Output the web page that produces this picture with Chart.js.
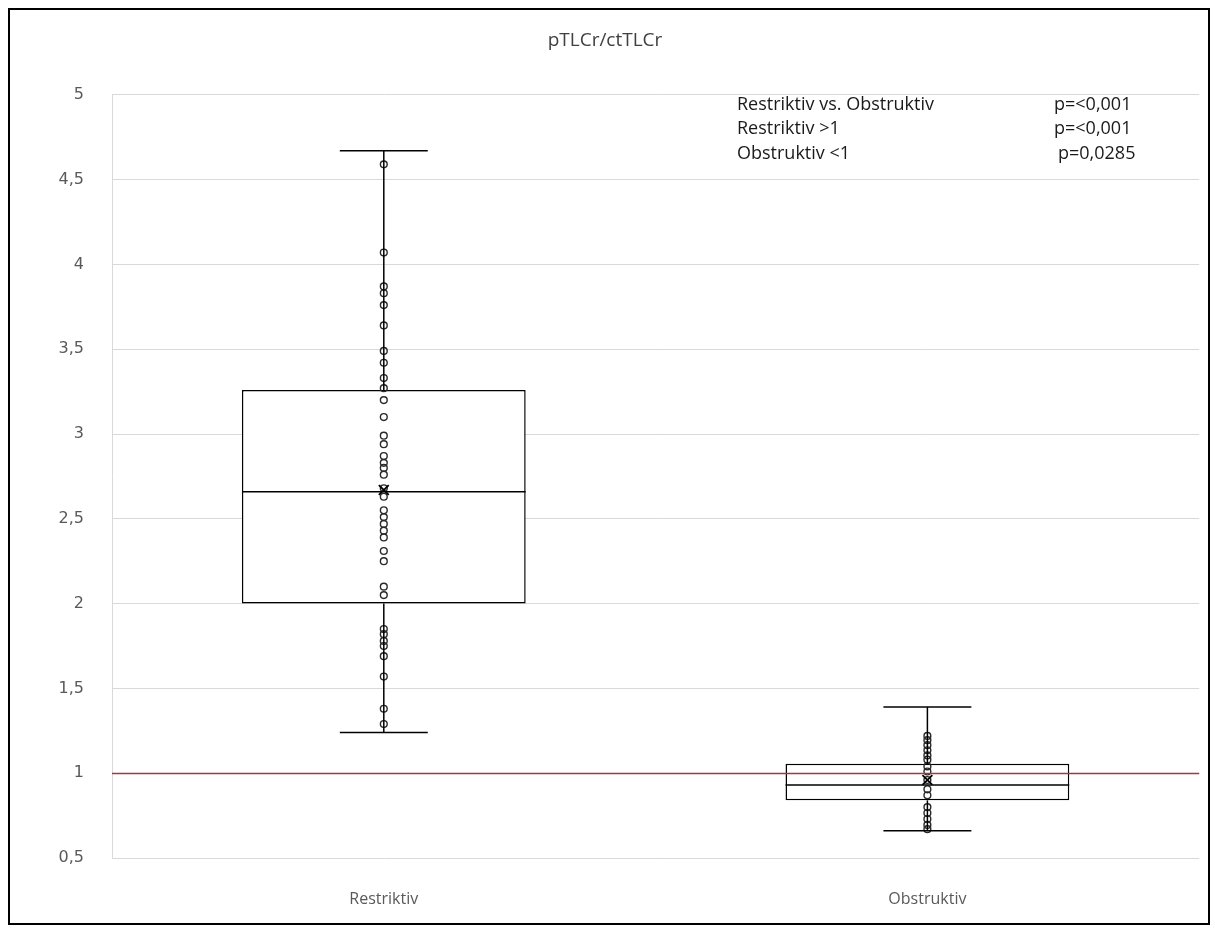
<!DOCTYPE html>
<html>
<head>
<meta charset="utf-8">
<script src="https://cdn.jsdelivr.net/npm/chart.js@4"></script>
<style>
  body { margin: 0; background: #fff; }
  #frame { position: absolute; left: 8px; top: 8px; width: 1198px; height: 913px; border: 2px solid #000; }
</style>
</head>
<body>
<div id="frame"><canvas id="myChart" width="1198" height="913"></canvas></div>
<script>
/* data */
const categories = ['Restriktiv', 'Obstruktiv'];
const boxMin = [1.24, 0.66];
const boxQ1 = [2.0, 0.84];
const boxMedian = [2.66, 0.93];
const boxQ3 = [3.26, 1.055];
const boxMax = [4.67, 1.39];
const boxMean = [2.67, 0.96];

const restriktivPoints = [4.59, 4.07, 3.87, 3.83, 3.76, 3.64, 3.49, 3.42, 3.33, 3.27, 3.2, 3.1,
  2.99, 2.94, 2.87, 2.83, 2.8, 2.76, 2.68, 2.63, 2.55, 2.51, 2.47, 2.43, 2.39, 2.31, 2.25,
  2.1, 2.05, 1.85, 1.82, 1.78, 1.75, 1.69, 1.57, 1.38, 1.29];
const obstruktivPoints = [1.22, 1.195, 1.165, 1.135, 1.105, 1.08, 1.04, 1.01, 0.96, 0.905,
  0.87, 0.8, 0.765, 0.73, 0.695, 0.67];

const referenceValue = 1;
const statLabels = ['Restriktiv vs. Obstruktiv', 'Restriktiv >1', 'Obstruktiv <1'];
const statPValues = ['p=<0,001', 'p=<0,001', 'p=0,0285'];

const FONT = '"Open Sans", sans-serif';

/* whiskers, median, reference line, p-value text */
const boxExtras = {
  id: 'boxExtras',
  afterDatasetsDraw(chart) {
    const { ctx, chartArea, scales } = chart;
    const y = scales.y;
    const bars = chart.getDatasetMeta(0).data;
    ctx.save();
    // red line at 1
    ctx.strokeStyle = '#9e3a43';
    ctx.lineWidth = 1.5;
    ctx.beginPath();
    ctx.moveTo(chartArea.left, Math.round(y.getPixelForValue(referenceValue)) + 0.5);
    ctx.lineTo(chartArea.right, Math.round(y.getPixelForValue(referenceValue)) + 0.5);
    ctx.stroke();

    ctx.strokeStyle = '#000';
    ctx.lineWidth = 1.5;
    bars.forEach((bar, i) => {
      const cx = bar.x;
      const half = bar.width / 2;
      const cap = bar.width * 0.155;
      const line = (x1, y1, x2, y2) => {
        ctx.beginPath(); ctx.moveTo(x1, y1); ctx.lineTo(x2, y2); ctx.stroke();
      };
      line(cx - half, y.getPixelForValue(boxMedian[i]), cx + half, y.getPixelForValue(boxMedian[i]));
      line(cx, y.getPixelForValue(boxQ3[i]), cx, y.getPixelForValue(boxMax[i]));
      line(cx, y.getPixelForValue(boxQ1[i]), cx, y.getPixelForValue(boxMin[i]));
      line(cx - cap, y.getPixelForValue(boxMax[i]), cx + cap, y.getPixelForValue(boxMax[i]));
      line(cx - cap, y.getPixelForValue(boxMin[i]), cx + cap, y.getPixelForValue(boxMin[i]));
    });

    ctx.fillStyle = '#1a1a1a';
    ctx.font = '18px ' + FONT;
    ctx.textBaseline = 'middle';
    statLabels.forEach((t, i) => {
      const ty = chartArea.top + 10 + i * 24.5;
      ctx.fillText(t, chartArea.left + 625, ty);
      ctx.fillText(statPValues[i], chartArea.left + 942 + (i === 2 ? 4 : 0), ty);
    });
    ctx.restore();
  }
};

const ctx = document.getElementById('myChart').getContext('2d');
const myChart = new Chart(ctx, {
  data: {
    labels: categories,
    datasets: [
      {
        type: 'bar',
        data: categories.map((c, i) => [boxQ1[i], boxQ3[i]]),
        backgroundColor: '#fff',
        borderColor: '#000',
        borderWidth: 1.5,
        borderSkipped: false,
        barPercentage: 0.522,
        categoryPercentage: 1,
        order: 3
      },
      {
        type: 'line',
        data: restriktivPoints.map(v => ({ x: categories[0], y: v }))
          .concat(obstruktivPoints.map(v => ({ x: categories[1], y: v }))),
        showLine: false,
        pointStyle: 'circle',
        pointRadius: 3.4,
        pointBorderWidth: 1.4,
        pointBorderColor: '#2a2a2a',
        pointBackgroundColor: 'rgba(0,0,0,0)',
        order: 1
      },
      {
        type: 'line',
        data: categories.map((c, i) => ({ x: c, y: boxMean[i] })),
        showLine: false,
        pointStyle: 'crossRot',
        pointRadius: 7,
        pointBorderWidth: 1.8,
        pointBorderColor: '#000',
        order: 0
      }
    ]
  },
  options: {
    responsive: false,
    animation: false,
    layout: { padding: { left: 0, right: 8, top: 0, bottom: 0 } },
    plugins: {
      legend: { display: false },
      tooltip: { enabled: false },
      title: {
        display: true,
        text: 'pTLCr/ctTLCr',
        color: '#404040',
        font: { family: FONT, size: 19, weight: 'normal' },
        padding: { top: 19, bottom: 43 }
      }
    },
    scales: {
      x: {
        grid: { display: false, drawTicks: false },
        border: { display: false },
        ticks: { color: '#595959', font: { family: FONT, size: 16 }, padding: 32 },
        afterFit(scale) { scale.height = 65; }
      },
      y: {
        min: 0.5,
        max: 5,
        grid: { color: '#d9d9d9', lineWidth: 1, drawTicks: false },
        border: { color: '#d9d9d9' },
        ticks: {
          stepSize: 0.5,
          color: '#595959',
          font: { family: '"DejaVu Sans", sans-serif', size: 16 },
          padding: 28,
          callback: v => String(v).replace('.', ',')
        },
        afterFit(scale) { scale.width = 102; }
      }
    }
  },
  plugins: [boxExtras]
});
</script>
</body>
</html>
